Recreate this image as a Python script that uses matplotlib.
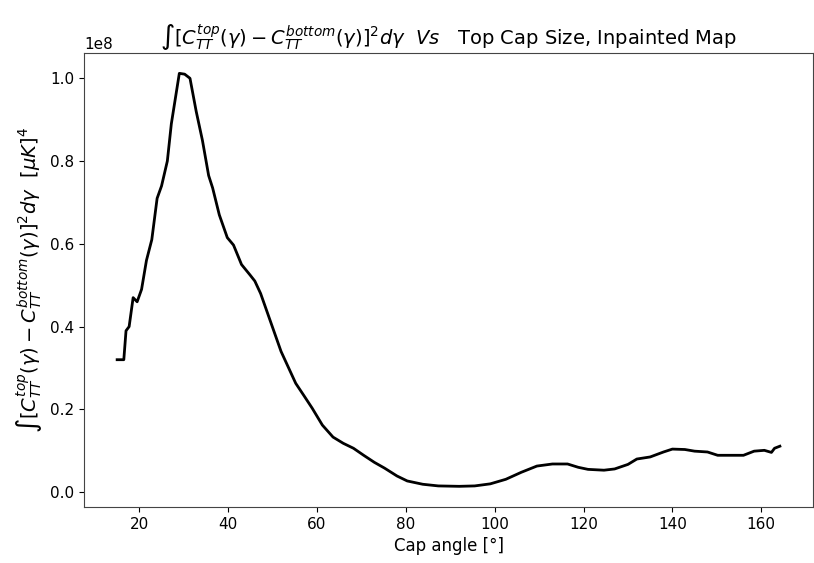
import matplotlib
matplotlib.use("Agg")
import matplotlib.pyplot as plt
import numpy as np

# cap angle in degrees
cap_angle = [15.0, 16.5, 17.0, 17.7, 18.6, 19.5, 20.5, 21.6, 22.8, 24.0,
             25.0, 26.3, 27.2, 29.0, 30.2, 31.4, 32.8, 34.2, 35.6, 36.5,
             38.0, 39.8, 41.2, 43.0, 44.9, 46.0, 47.3, 49.6, 51.9, 55.2,
             57.0, 58.9, 61.2, 63.6, 65.9, 68.2, 70.5, 72.9, 75.2, 78.0,
             80.3, 83.8, 87.3, 92.0, 95.5, 99.0, 102.5, 106.0, 109.5, 113.0,
             116.4, 118.8, 121.0, 124.6, 127.0, 130.0, 132.0, 135.0, 138.0, 140.0,
             142.8, 145.0, 147.9, 150.2, 153.7, 156.0, 158.4, 160.7, 162.3, 163.0,
             164.2]

# integrated squared difference, units of 1e8 [muK]^4
diff_sq = [0.320, 0.320, 0.390, 0.400, 0.470, 0.460, 0.490, 0.560, 0.610, 0.710,
           0.740, 0.800, 0.890, 1.012, 1.010, 1.000, 0.920, 0.850, 0.765, 0.735,
           0.670, 0.615, 0.597, 0.550, 0.525, 0.510, 0.480, 0.410, 0.340, 0.263,
           0.234, 0.203, 0.162, 0.133, 0.118, 0.106, 0.089, 0.072, 0.058, 0.039,
           0.027, 0.019, 0.015, 0.014, 0.015, 0.020, 0.031, 0.048, 0.063, 0.068,
           0.068, 0.060, 0.055, 0.053, 0.056, 0.067, 0.080, 0.085, 0.097, 0.104,
           0.103, 0.099, 0.097, 0.089, 0.089, 0.089, 0.099, 0.101, 0.096, 0.106,
           0.111]


def plot():
    fig, ax = plt.subplots(figsize=(8.14, 5.63), dpi=100)
    ax.plot(np.array(cap_angle), np.array(diff_sq) * 1e8, color="black", linewidth=2.0)
    ax.set_xlabel("Cap angle [°]", fontsize=12)
    ax.set_ylabel(r"$\int[C_{TT}^{top}(\gamma) - C_{TT}^{bottom}(\gamma)]^2 d\gamma$  $[\mu K]^4$",
                  fontsize=14)
    ax.set_title(r"$\int[C_{TT}^{top}(\gamma) - C_{TT}^{bottom}(\gamma)]^2 d\gamma$  $Vs$   "
                 "Top Cap Size, Inpainted Map", fontsize=14)
    ax.tick_params(labelsize=11)
    ax.yaxis.get_offset_text().set_fontsize(11)
    for s in ax.spines.values():
        s.set_color("#444444")
    fig.subplots_adjust(left=0.1032, right=0.9988, top=0.9064, bottom=0.0995)
    fig.savefig("out.png")


if __name__ == "__main__":
    plot()
